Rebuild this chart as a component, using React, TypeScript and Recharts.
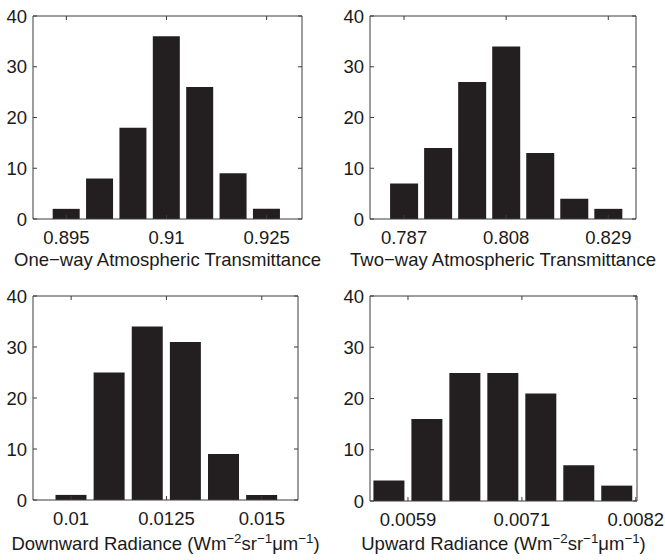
import React from "react";
import { BarChart, Bar, XAxis, YAxis } from "recharts";

// shared count axis
const countTicks = [0, 10, 20, 30, 40];

// one-way transmittance histogram
const oneWayBins = [0.895, 0.9, 0.905, 0.91, 0.915, 0.92, 0.925];
const oneWayCounts = [2, 8, 18, 36, 26, 9, 2];
const oneWayTicks = [0.895, 0.91, 0.925];
const oneWayLabels = ["0.895", "0.91", "0.925"];

// two-way transmittance histogram
const twoWayBins = [0.787, 0.794, 0.801, 0.808, 0.815, 0.822, 0.829];
const twoWayCounts = [7, 14, 27, 34, 13, 4, 2];
const twoWayTicks = [0.787, 0.808, 0.829];
const twoWayLabels = ["0.787", "0.808", "0.829"];

// downward radiance histogram
const downBins = [0.01, 0.011, 0.012, 0.013, 0.014, 0.015];
const downCounts = [1, 25, 34, 31, 9, 1];
const downTicks = [0.01, 0.0125, 0.015];
const downLabels = ["0.01", "0.0125", "0.015"];

// upward radiance histogram (ticks sit on bin edges)
const upBins = [0.0057075, 0.0060925, 0.0064775, 0.0068625, 0.0072475, 0.0076325, 0.0080175];
const upCounts = [4, 16, 25, 25, 21, 7, 3];
const upTicks = [0.0059, 0.007055, 0.00821];
const upLabels = ["0.0059", "0.0071", "0.0082"];

const FONT = "'Liberation Sans', Arial, Helvetica, sans-serif";
const INK = "#1a1a1a";
const FRAME = "#3c3c3c";
const BAR = "#231f20";

const sup = (s: string) => (
  <sup style={{ fontSize: "0.72em", lineHeight: 0, verticalAlign: "0.5em" }}>{s}</sup>
);

const radianceUnit = (
  <>
    {"(Wm"}
    {sup("\u22122")}
    {"sr"}
    {sup("\u22121")}
    {"\u03bcm"}
    {sup("\u22121")}
    {")"}
  </>
);

type PanelProps = {
  bins: number[];
  counts: number[];
  ticks: number[];
  labels: string[];
  domain: [number, number];
  left: number;
  top: number;
  width: number;
  height: number;
  plot: [number, number, number, number];
  titleBaseline: number;
  title: React.ReactNode;
};

function Histogram(p: PanelProps) {
  const data = p.bins.map((x, i) => ({ x, count: p.counts[i] }));
  const [x0, x1, y0, y1] = p.plot;
  const fmt = (v: number) => {
    const i = p.ticks.indexOf(v);
    return i >= 0 ? p.labels[i] : "";
  };
  const tickStyle = { fontSize: 18.5, fill: INK, fontFamily: FONT };
  const line = { stroke: FRAME, strokeWidth: 1 };
  return (
    <div style={{ position: "absolute", left: p.left, top: p.top, width: p.width, height: p.height }}>
      <BarChart
        width={p.width}
        height={p.height}
        data={data}
        margin={{ top: y0 - 1, right: p.width - x1 - 1, bottom: p.height - y1 - 30, left: 0 }}
        barCategoryGap="9%"
      >
        <XAxis
          xAxisId="bottom"
          dataKey="x"
          type="number"
          domain={p.domain}
          allowDataOverflow
          ticks={p.ticks}
          interval={0}
          tickFormatter={fmt}
          height={30}
          tickSize={-4}
          tickMargin={16}
          tick={tickStyle}
          axisLine={line}
          tickLine={line}
        />
        <XAxis
          xAxisId="top"
          orientation="top"
          dataKey="x"
          type="number"
          domain={p.domain}
          allowDataOverflow
          ticks={p.ticks}
          interval={0}
          tickFormatter={() => ""}
          height={1}
          tickSize={-4}
          axisLine={line}
          tickLine={line}
        />
        <YAxis
          yAxisId="left"
          type="number"
          domain={[0, 40]}
          allowDataOverflow
          ticks={countTicks}
          interval={0}
          width={x0}
          tickSize={-4}
          tickMargin={10}
          tick={tickStyle}
          axisLine={line}
          tickLine={line}
        />
        <YAxis
          yAxisId="right"
          orientation="right"
          type="number"
          domain={[0, 40]}
          allowDataOverflow
          ticks={countTicks}
          interval={0}
          width={1}
          tickFormatter={() => ""}
          tickSize={-4}
          axisLine={line}
          tickLine={line}
        />
        <Bar xAxisId="bottom" yAxisId="left" dataKey="count" fill={BAR} isAnimationActive={false} />
      </BarChart>
      <div
        style={{
          position: "absolute",
          left: (x0 + x1) / 2 - 200,
          width: 400,
          top: p.titleBaseline - 16.4,
          textAlign: "center",
          whiteSpace: "nowrap",
          fontFamily: FONT,
          fontSize: 18.5,
          lineHeight: "20px",
          color: INK,
        }}
      >
        {p.title}
      </div>
    </div>
  );
}

export default function App() {
  return (
    <div style={{ position: "absolute", left: 0, top: 0, width: 665, height: 560, background: "#fff" }}>
      <Histogram
        bins={oneWayBins}
        counts={oneWayCounts}
        ticks={oneWayTicks}
        labels={oneWayLabels}
        domain={[0.89, 0.9303]}
        left={0}
        top={0}
        width={330}
        height={280}
        plot={[33, 302, 16, 219]}
        titleBaseline={266}
        title={"One\u2212way Atmospheric Transmittance"}
      />
      <Histogram
        bins={twoWayBins}
        counts={twoWayCounts}
        ticks={twoWayTicks}
        labels={twoWayLabels}
        domain={[0.78, 0.8347]}
        left={330}
        top={0}
        width={335}
        height={280}
        plot={[40, 306, 16, 219]}
        titleBaseline={266}
        title={"Two\u2212way Atmospheric Transmittance"}
      />
      <Histogram
        bins={downBins}
        counts={downCounts}
        ticks={downTicks}
        labels={downLabels}
        domain={[0.009, 0.01595]}
        left={0}
        top={280}
        width={330}
        height={280}
        plot={[33, 298, 16, 220]}
        titleBaseline={270}
        title={<>Downward Radiance {radianceUnit}</>}
      />
      <Histogram
        bins={upBins}
        counts={upCounts}
        ticks={upTicks}
        labels={upLabels}
        domain={[0.005515, 0.008222]}
        left={330}
        top={280}
        width={335}
        height={280}
        plot={[40, 307, 16, 221]}
        titleBaseline={270}
        title={<>Upward Radiance {radianceUnit}</>}
      />
    </div>
  );
}
